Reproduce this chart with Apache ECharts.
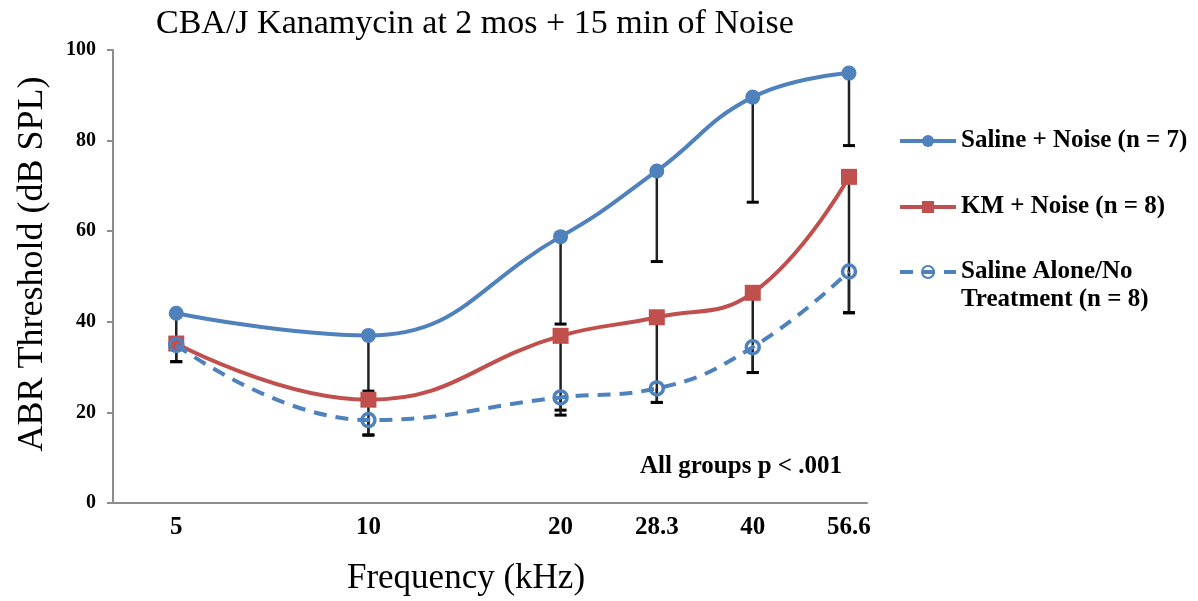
<!DOCTYPE html>
<html>
<head>
<meta charset="utf-8">
<script src="https://cdn.jsdelivr.net/npm/echarts@6/dist/echarts.min.js"></script>
<style>
  html, body { margin: 0; padding: 0; background: #fff; }
  #chart { width: 1198px; height: 601px; }
</style>
</head>
<body>
<div id="chart"></div>
<script>
// Test frequencies (kHz) and tick labels
const freqs = [5, 10, 20, 28.3, 40, 56.6];
const freqLabels = ['5', '10', '20', '28.3', '40', '56.6'];

// Mean ABR thresholds (dB SPL) and lower error-bar ends
const salineNoise = [41.9, 37.0, 58.8, 73.3, 89.6, 94.9];
const salineNoiseLow = [35.5, 24.7, 39.5, 53.3, 66.4, 78.9];
const kmNoise = [35.2, 22.8, 36.9, 41.0, 46.4, 72.0];
const kmNoiseLow = [31.2, 15.0, 20.5, 22.2, 28.8, 42.0];
const salineAlone = [34.9, 18.3, 23.3, 25.3, 34.4, 51.1];
const salineAloneLow = [31.2, 15.0, 19.4, 22.2, 28.8, 42.0];

const seriesNames = ['Saline + Noise (n = 7)', 'KM + Noise (n = 8)', 'Saline Alone/No\nTreatment (n = 8)'];
const BLUE = '#4F81BD';
const RED = '#C0504D';
const SERIF = '"Liberation Serif", "Times New Roman", serif';

const pairs = (ys) => freqs.map((f, i) => [f, ys[i]]);
const errData = (ys, lows) => freqs.map((f, i) => [f, ys[i], lows[i]]);

// Downward error bar: stem from the mean to the lower end, with a cap
function renderErr(params, api) {
  const top = api.coord([api.value(0), api.value(1)]);
  const bot = api.coord([api.value(0), api.value(2)]);
  return {
    type: 'group',
    children: [
      { type: 'line', shape: { x1: top[0], y1: top[1], x2: bot[0], y2: bot[1] },
        style: { stroke: '#222', lineWidth: 2.5 } },
      { type: 'line', shape: { x1: bot[0] - 6, y1: bot[1], x2: bot[0] + 6, y2: bot[1] },
        style: { stroke: '#000', lineWidth: 3 } }
    ]
  };
}

const errSeries = (ys, lows) => ({
  type: 'custom',
  renderItem: renderErr,
  data: errData(ys, lows),
  encode: { x: 0, y: [1, 2] },
  z: 1,
  silent: true
});

const legendText = { fontFamily: SERIF, fontSize: 25, fontWeight: 'bold', color: '#000', lineHeight: 28 };

const chart = echarts.init(document.getElementById('chart'), null, { renderer: 'canvas' });
chart.setOption({
  animation: false,
  title: {
    text: 'CBA/J Kanamycin at 2 mos + 15 min of Noise',
    left: 151, top: 2,
    textStyle: { fontFamily: SERIF, fontSize: 34, fontWeight: 'normal', color: '#000' }
  },
  grid: { left: 113, right: 331, top: 50, bottom: 98, containLabel: false, outerBoundsMode: 'none' },
  legend: [{
    orient: 'vertical',
    left: 898, top: 127, padding: 0,
    itemWidth: 56, itemHeight: 15,
    itemGap: 38,
    data: seriesNames.slice(0, 2),
    lineStyle: { width: 4 },
    textStyle: legendText
  }, {
    orient: 'vertical',
    left: 898, top: 230, padding: 0,
    itemWidth: 56, itemHeight: 15,
    data: seriesNames.slice(2),
    lineStyle: { width: 4 },
    // empty leading line keeps the first text line level with the icon
    formatter: (name) => ' \n' + name,
    textStyle: legendText
  }],
  xAxis: {
    type: 'log', logBase: 2, min: 3.98, max: 60.4,
    axisLine: { lineStyle: { color: '#8c8c8c', width: 2 } },
    axisTick: { show: false },
    splitLine: { show: false },
    minorTick: { show: false },
    axisLabel: {
      customValues: freqs,
      margin: 12,
      fontFamily: SERIF, fontSize: 25, fontWeight: 'bold', color: '#000',
      formatter: (v) => {
        let best = 0;
        freqs.forEach((f, i) => { if (Math.abs(f - v) < Math.abs(freqs[best] - v)) best = i; });
        return freqLabels[best];
      }
    }
  },
  yAxis: {
    type: 'value', min: 0, max: 100, interval: 20,
    axisLine: { show: true, lineStyle: { color: '#8c8c8c', width: 2 } },
    axisTick: { show: true, length: 6, lineStyle: { color: '#8c8c8c', width: 2 } },
    splitLine: { show: false },
    axisLabel: { margin: 17, fontFamily: SERIF, fontSize: 20, fontWeight: 'bold', color: '#000' }
  },
  graphic: [{
    // y axis title
    type: 'text', x: 33, y: 264, rotation: Math.PI / 2,
    style: { text: 'ABR Threshold (dB SPL)', fill: '#000', font: '36px ' + SERIF,
             align: 'center', verticalAlign: 'middle' }
  }, {
    // x axis title
    type: 'text', x: 466, y: 579,
    style: { text: 'Frequency (kHz)', fill: '#000', font: '35px ' + SERIF,
             align: 'center', verticalAlign: 'middle' }
  }, {
    type: 'text', x: 640, y: 467,
    style: { text: 'All groups p < .001', fill: '#000', font: 'bold 25px ' + SERIF,
             align: 'left', verticalAlign: 'middle' }
  }],
  series: [
    errSeries(salineNoise, salineNoiseLow),
    errSeries(kmNoise, kmNoiseLow),
    errSeries(salineAlone, salineAloneLow),
    {
      name: seriesNames[0], type: 'line', data: pairs(salineNoise), smooth: 0.45,
      symbol: 'circle', symbolSize: 15, z: 3,
      lineStyle: { color: BLUE, width: 4 }, itemStyle: { color: BLUE }
    },
    {
      name: seriesNames[1], type: 'line', data: pairs(kmNoise), smooth: 0.45,
      symbol: 'rect', symbolSize: 16, z: 3,
      lineStyle: { color: RED, width: 4 }, itemStyle: { color: RED }
    },
    {
      name: seriesNames[2], type: 'line', data: pairs(salineAlone), smooth: 0.45,
      symbol: 'circle', symbolSize: 13, z: 4,
      lineStyle: { color: BLUE, width: 4, type: [13, 9] },
      itemStyle: { color: 'rgba(255,255,255,0)', borderColor: BLUE, borderWidth: 3.5 }
    }
  ]
});
</script>
</body>
</html>
